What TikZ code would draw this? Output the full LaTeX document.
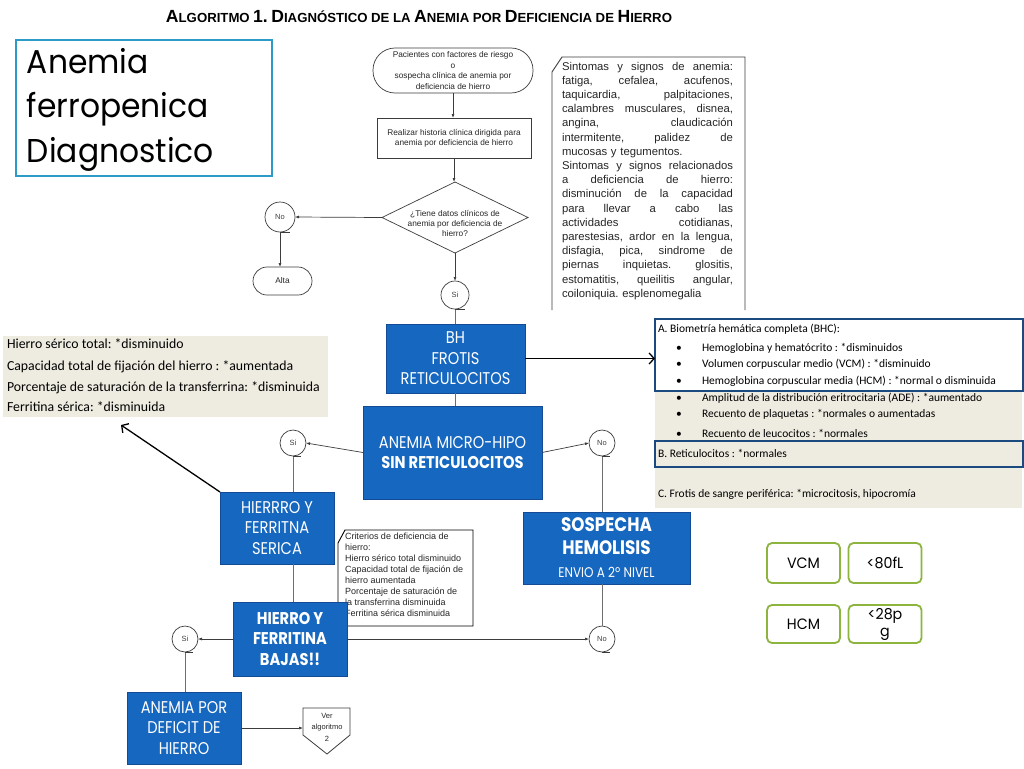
\documentclass[tikz,border=0pt]{standalone}
\usepackage{fontspec}
\usepackage{graphicx}
\setmainfont{Carlito}
\newfontfamily\arialf{Liberation Sans}
\newfontfamily\tw[FakeStretch=0.86]{Poppins}
\newfontfamily\twide[FakeStretch=0.95]{Poppins}
\usetikzlibrary{arrows.meta,calc}
\definecolor{boxblue}{RGB}{22,103,192}
\definecolor{boxedge}{RGB}{20,75,150}
\definecolor{titleblue}{RGB}{46,154,200}
\definecolor{panelgray}{RGB}{238,236,225}
\definecolor{navy}{RGB}{27,74,128}
\definecolor{vgreen}{RGB}{141,180,62}
\definecolor{fcline}{RGB}{60,60,60}
\definecolor{conn}{RGB}{110,110,110}
\newcommand\myscx[2]{{\fontsize{14}{14}\selectfont #1}{\fontsize{10.5}{14}\selectfont #2}}
\newcommand\jl[1]{\makebox[171pt][s]{\spaceskip=0.28em plus 1fil\xspaceskip=0.28em plus 1fil\relax #1}}
\frenchspacing
\tikzset{
  bluebox/.style={draw=boxedge, fill=boxblue, line width=0.8pt, text=white, align=center, font=\tw\fontsize{17}{20.5}\selectfont},
  fcbox/.style={draw=fcline, fill=white, line width=0.7pt, align=center, text=black!85, font=\arialf\fontsize{8.3}{10.8}\selectfont},
  fccirc/.style={circle, draw=fcline, fill=white, line width=0.7pt, text=black!75, font=\arialf\fontsize{7.5}{8}\selectfont},
  fcarrow/.style={draw=fcline, line width=0.7pt, -{Latex[length=4pt,width=3pt]}},
  fclink/.style={draw=conn, line width=0.9pt},
  tailline/.style={draw=fcline, line width=0.7pt},
  bigarrow/.style={draw=black, line width=1.3pt, -{Straight Barb[length=5pt,width=11pt]}},
  greenbox/.style={draw=vgreen, line width=1.8pt, rounded corners=5pt, minimum width=73pt, minimum height=40pt, align=center, font=\twide\fontsize{15}{17}\selectfont},
  notetext/.style={align=left, text=black!85, font=\arialf\fontsize{11.3}{14.2}\selectfont},
  crittext/.style={align=left, text=black!85, font=\arialf\fontsize{9}{11}\selectfont},
  graytext/.style={anchor=base west, font=\fontsize{13.8}{15}\selectfont},
  paneltext/.style={anchor=base west, font=\fontsize{11.5}{13}\selectfont}
}
\begin{document}
\begin{tikzpicture}[x=1pt,y=-1pt, every node/.style={inner sep=0pt, outer sep=0pt}]
\useasboundingbox (0,0) rectangle (1024,768);
\fill[white] (0,0) rectangle (1024,768);

% ---------- heading ----------
\node[font=\arialf\bfseries] (title) at (419,17) {\resizebox{506pt}{!}{\myscx{A}{LGORITMO} \myscx{1.}{} \myscx{D}{IAGNÓSTICO} \myscx{}{DE LA} \myscx{A}{NEMIA} \myscx{}{POR} \myscx{D}{EFICIENCIA} \myscx{}{DE} \myscx{H}{IERRO}}};

% ---------- title box ----------
\node[draw=titleblue, line width=1.6pt, minimum width=256pt, minimum height=136pt] (tbox) at (144,108) {};
\node[anchor=base west, font=\twide\fontsize{33}{33}\selectfont] (t1) at (27,73) {Anemia};
\node[anchor=base west, font=\twide\fontsize{33}{33}\selectfont] (t2) at (27,117) {ferropenica};
\node[anchor=base west, font=\twide\fontsize{33}{33}\selectfont] (t3) at (27,162) {Diagnostico};

% ---------- upper flowchart ----------
\node[fcbox, rounded corners=22pt, minimum width=160pt, minimum height=45pt] (start) at (453,70.5) {Pacientes con factores de riesgo\\o\\sospecha clínica de anemia por\\deficiencia de hierro};
\node[fcbox, minimum width=154pt, minimum height=40pt, font=\arialf\fontsize{8.3}{9.8}\selectfont] (hist) at (454,138) {Realizar historia clínica dirigida para\\anemia por deficiencia de hierro};
\node[minimum width=146pt, minimum height=71pt] (dec) at (455,217.5) {};
\draw[draw=fcline, line width=0.7pt, fill=white] (dec.north) -- (dec.east) -- (dec.south) -- (dec.west) -- cycle;
\node[align=center, text=black!85, font=\arialf\fontsize{8.3}{10}\selectfont] (dectext) at (455,223) {¿Tiene datos clínicos de\\anemia por deficiencia de\\hierro?};
\node[fccirc, minimum size=30pt] (no1) at (280,217) {No};
\node[fcbox, rounded corners=14pt, minimum width=59pt, minimum height=28pt] (alta) at (282.5,281) {Alta};
\node[fccirc, minimum size=28pt] (si1) at (455,295) {Si};

\draw[fcarrow] (start.south) -- (start.south |- hist.north);
\draw[fcarrow] (hist.south) -- (hist.south |- dec.north);
\draw[fcarrow] (dec.west) -- (no1.east);
\draw[fcarrow] (no1.south) -- (no1.south |- alta.north);
\draw[fcarrow] (dec.south) -- (si1.north);
\draw[tailline] (no1.south) -- ++(10,0);

% symptoms note
\draw[draw=fcline, line width=0.9pt] (552,310) -- (552,72) -- (562,57) -- (745,57) -- (745,310);
\node[notetext, anchor=north west, text width=171pt] (sympt) at (562,62) {%
\jl{Sintomas y signos de anemia:}\\
\jl{fatiga, cefalea, acufenos,}\\
\jl{taquicardia, palpitaciones,}\\
\jl{calambres musculares, disnea,}\\
\jl{angina, claudicación}\\
\jl{intermitente, palidez de}\\
mucosas y tegumentos.\\
\jl{Sintomas y signos relacionados}\\
\jl{a deficiencia de hierro:}\\
\jl{disminución de la capacidad}\\
\jl{para llevar a cabo las}\\
\jl{actividades cotidianas,}\\
\jl{parestesias, ardor en la lengua,}\\
\jl{disfagia, pica, sindrome de}\\
\jl{piernas inquietas. glositis,}\\
\jl{estomatitis, queilitis angular,}\\
coiloniquia. esplenomegalia};

% ---------- left gray box ----------
\node[fill=panelgray, minimum width=325pt, minimum height=81pt, anchor=north west] (gray) at (3,336) {};
\node[graytext] (g1) at (7,348) {Hierro sérico total: *disminuido};
\node[graytext] (g2) at (7,370) {Capacidad total de fijación del hierro : *aumentada};
\node[graytext] (g3) at (7,391) {Porcentaje de saturación de la transferrina: *disminuida};
\node[graytext] (g4) at (7,411) {Ferritina sérica: *disminuida};

% ---------- right panel ----------
\node[fill=panelgray, minimum width=367pt, minimum height=118pt, anchor=north west] (panel) at (655,390) {};
\node[draw=navy, line width=2.5pt, fill=white, minimum width=368pt, minimum height=72pt, anchor=north west] (pA) at (655,319) {};
\node[draw=navy, line width=2.5pt, fill=panelgray, minimum width=368pt, minimum height=26pt, anchor=north west] (pB) at (655,441) {};
\node[paneltext] (a0) at (658,332) {A. Biometría hemática completa (BHC):};
\node[paneltext] (a1) at (676,351) {\textbullet};
\node[paneltext] (a1t) at (702,351) {Hemoglobina y hematócrito : *disminuidos};
\node[paneltext] (a2) at (676,367) {\textbullet};
\node[paneltext] (a2t) at (702,367) {Volumen corpuscular medio (VCM) : *disminuido};
\node[paneltext] (a3) at (676,384) {\textbullet};
\node[paneltext] (a3t) at (702,384) {Hemoglobina corpuscular media (HCM) : *normal o disminuida};
\node[paneltext] (a4) at (676,401) {\textbullet};
\node[paneltext] (a4t) at (702,401) {Amplitud de la distribución eritrocitaria (ADE) : *aumentado};
\node[paneltext] (a5) at (676,417) {\textbullet};
\node[paneltext] (a5t) at (702,417) {Recuento de plaquetas : *normales o aumentadas};
\node[paneltext] (a6) at (676,437) {\textbullet};
\node[paneltext] (a6t) at (702,437) {Recuento de leucocitos : *normales};
\node[paneltext] (b0) at (658,457) {B. Reticulocitos : *normales};
\node[paneltext] (c0) at (658,497) {C. Frotis de sangre periférica: *microcitosis, hipocromía};

% ---------- blue flow ----------
\node[bluebox, minimum width=139pt, minimum height=69pt] (bh) at (455.5,358.5) {BH\\FROTIS\\RETICULOCITOS};
\node[bluebox, minimum width=179pt, minimum height=93pt, font=\tw\fontsize{17}{20}\selectfont] (micro) at (452.5,452.5) {ANEMIA MICRO-HIPO\\\textbf{SIN RETICULOCITOS}};
\node[fccirc, minimum size=26pt] (si2) at (293,443) {Si};
\node[fccirc, minimum size=26pt] (no2) at (602,443) {No};
\node[bluebox, minimum width=114pt, minimum height=72pt] (hierrro) at (277,528) {HIERRRO Y\\FERRITNA\\SERICA};
\node[bluebox, minimum width=167pt, minimum height=72pt, font=\tw\fontsize{14}{23}\selectfont] (sosp) at (606.5,548) {{\bfseries\fontsize{19.5}{23}\selectfont SOSPECHA}\\{\bfseries\fontsize{19.5}{23}\selectfont HEMOLISIS}\\ENVIO A 2º NIVEL};

% criteria note
\draw[draw=black, line width=0.9pt, fill=white] (338,543) -- (345,530) -- (473,530) -- (473,626) -- (338,626) -- cycle;
\node[crittext, anchor=north west] (crit) at (345,533) {Criterios de deficiencia de\\hierro:\\Hierro sérico total disminuido\\Capacidad total de fijación de\\hierro aumentada\\Porcentaje de saturación de\\la transferrina disminuida\\Ferritina sérica disminuida};

\node[bluebox, minimum width=114pt, minimum height=74pt, font=\tw\bfseries\fontsize{17}{20.5}\selectfont] (bajas) at (290,639) {HIERRO Y\\FERRITINA\\BAJAS!!};
\node[fccirc, minimum size=26pt] (no3) at (602,639) {No};
\node[fccirc, minimum size=26pt] (si3) at (185,639) {Si};
\node[bluebox, minimum width=114pt, minimum height=72pt] (deficit) at (184,728) {ANEMIA POR\\DEFICIT DE\\HIERRO};

% off-page connector
\node[minimum width=47pt, minimum height=27pt] (ver) at (326.5,721.5) {};
\draw[draw=fcline, line width=0.8pt, fill=white] (ver.north west) -- (ver.north east) -- (ver.south east) -- (327,754) -- (ver.south west) -- cycle;
\node[align=center, text=black!85, font=\arialf\fontsize{7.5}{11.5}\selectfont] (vertext) at (327,727) {Ver\\algoritmo\\2};

% ---------- connectors ----------
\draw[fclink] (si1.south) -- (si1.south |- bh.north);
\draw[tailline] (si1.south) -- ++(10,0);
\draw[fclink] (bh.south) -- (bh.south |- micro.north);
\draw[bigarrow] (bh.east) -- (bh.east -| pA.west);
\draw[fcarrow] (micro.west) -- (si2.east);
\draw[fcarrow] (micro.east) -- (no2.west);
\draw[fclink] (si2.south) -- (si2.south |- hierrro.north);
\draw[fclink] (no2.south) -- (no2.south |- sosp.north);
\draw[fclink] (si2.south |- hierrro.south) -- (si2.south |- bajas.north);
\draw[fclink] (no3.north |- sosp.south) -- (no3.north);
\draw[fcarrow] (bajas.east) -- (no3.west);
\draw[fcarrow] (bajas.west) -- (si3.east);
\draw[fclink] (si3.south) -- (si3.south |- deficit.north);
\draw[fcarrow] (deficit.east) -- (deficit.east -| ver.west);
\coordinate (gtip) at (121,425);
\draw[bigarrow] (hierrro.north west) -- (gtip);
\draw[tailline] (si2.south) -- ++(8,0);
\draw[tailline] (no2.south) -- ++(8,0);
\draw[tailline] (no3.south) -- ++(8,0);
\draw[tailline] (si3.south) -- ++(8,0);

% ---------- green boxes ----------
\node[greenbox] (vcm) at (803.5,563) {VCM};
\node[greenbox] (vcmv) at (885,563) {<80fL};
\node[greenbox, minimum height=38pt] (hcm) at (803.5,624) {HCM};
\node[greenbox, minimum height=38pt] (hcmv) at (885,624) {<28p\\g};
\end{tikzpicture}
\end{document}
